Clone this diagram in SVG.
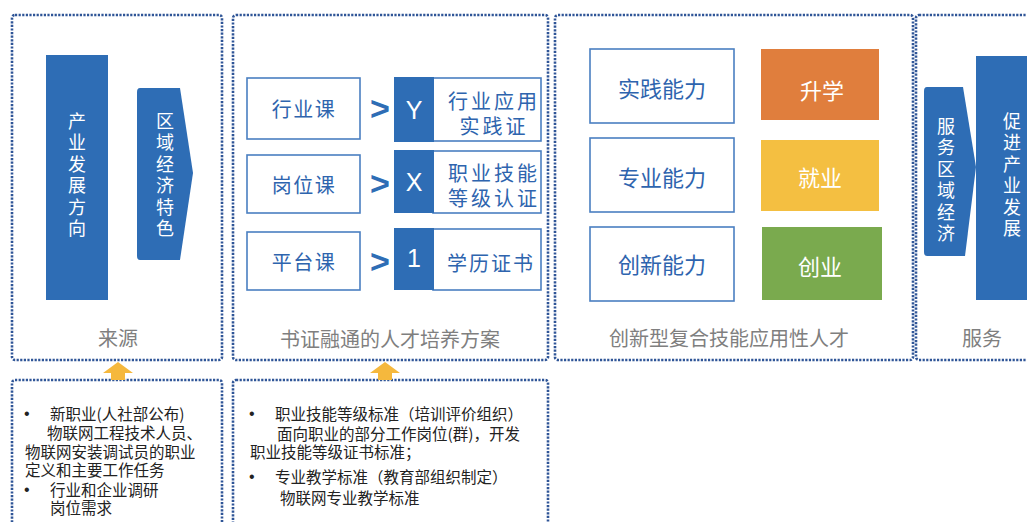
<svg xmlns="http://www.w3.org/2000/svg" width="1027" height="522" viewBox="0 0 1027 522">
<style>
.frame{fill:none;stroke:#2F5597;stroke-width:2.6;stroke-dasharray:2.2 1.4}
.blue{fill:#2E6DB5}
.box{fill:#fff;stroke:#4A7FC1;stroke-width:1.6}
.t{font-family:"Noto Sans CJK SC","Noto Sans",sans-serif;dominant-baseline:central}
.wv{fill:#fff;font-family:"Noto Sans CJK SC","Noto Sans",sans-serif;font-size:18px;writing-mode:vertical-rl;letter-spacing:3.5px}
.cap{fill:#7F7F7F;font-size:20px;text-anchor:middle}
.bt{fill:#2E64AE;font-size:20px;text-anchor:middle}
.ab{fill:#2E64AE;font-size:22px;text-anchor:middle}
.wl{fill:#fff;font-size:22px;text-anchor:middle}
.letter{fill:#fff;font-family:"Liberation Sans",Arial,sans-serif;font-size:25px;text-anchor:middle;dominant-baseline:central}
.chev{fill:#2E6DB5;font-family:"Liberation Sans",Arial,sans-serif;font-weight:bold;font-size:34px;text-anchor:middle;dominant-baseline:central}
.sm{fill:#222;font-size:15.5px}
.bul{fill:#222;font-family:"Liberation Sans",Arial,sans-serif;font-size:16px;dominant-baseline:central}
.arrow{fill:#F5B83D}
</style>

<g id="panel-source">
<rect class="frame" x="12" y="15" width="210" height="345" rx="3"/>
<rect class="blue" x="46" y="55" width="62" height="245"/>
<text class="wv" x="77" y="112">产业发展方向</text>
<path class="blue" d="M140 88 L180 88 L193 173 L180 260 L140 260 Q137 260 137 256 L137 92 Q137 88 140 88 Z"/>
<text class="wv" x="165" y="112">区域经济特色</text>
<text class="t cap" x="118" y="337">来源</text>
</g>

<g id="panel-plan">
<rect class="frame" x="233" y="15" width="315" height="345" rx="3"/>
<g id="row-y">
<rect class="box" x="247" y="78" width="113" height="61"/>
<text class="t bt" x="304" y="108.5" letter-spacing="1.5">行业课</text>
<text class="chev" x="380" y="108">&gt;</text>
<rect class="box" x="433" y="78" width="108" height="63"/>
<rect class="blue" x="394" y="77" width="40" height="65"/>
<text class="letter" x="414" y="109.5">Y</text>
<text class="t bt" x="494" y="100" letter-spacing="3">行业应用</text>
<text class="t bt" x="494" y="125" letter-spacing="3">实践证</text>
</g>
<g id="row-x">
<rect class="box" x="247" y="155" width="113" height="58"/>
<text class="t bt" x="304" y="184" letter-spacing="1.5">岗位课</text>
<text class="chev" x="380" y="183">&gt;</text>
<rect class="box" x="433" y="151" width="108" height="62"/>
<rect class="blue" x="394" y="150" width="40" height="63"/>
<text class="letter" x="414" y="182">X</text>
<text class="t bt" x="494" y="172" letter-spacing="3">职业技能</text>
<text class="t bt" x="494" y="197" letter-spacing="3">等级认证</text>
</g>
<g id="row-1">
<rect class="box" x="247" y="232" width="113" height="58"/>
<text class="t bt" x="304" y="261" letter-spacing="1.5">平台课</text>
<text class="chev" x="380" y="261">&gt;</text>
<rect class="box" x="433" y="229" width="108" height="61"/>
<rect class="blue" x="394" y="228" width="40" height="62"/>
<text class="letter" x="414" y="258">1</text>
<text class="t bt" x="491" y="262" letter-spacing="2">学历证书</text>
</g>
<text class="t cap" x="390" y="338">书证融通的人才培养方案</text>
</g>

<g id="panel-talent">
<rect class="frame" x="555" y="15" width="358" height="345" rx="3"/>
<rect class="box" x="590" y="49" width="144" height="74"/>
<text class="t ab" x="662" y="87">实践能力</text>
<rect class="box" x="590" y="138" width="144" height="74"/>
<text class="t ab" x="662" y="176">专业能力</text>
<rect class="box" x="590" y="227" width="144" height="74"/>
<text class="t ab" x="662" y="263">创新能力</text>
<rect x="761" y="49" width="118" height="71" fill="#E07E3D"/>
<text class="t wl" x="822" y="89">升学</text>
<rect x="761" y="140" width="118" height="71" fill="#F4BF41"/>
<text class="t wl" x="820" y="176">就业</text>
<rect x="762" y="227" width="120" height="73" fill="#7AAA4E"/>
<text class="t wl" x="820" y="265">创业</text>
<text class="t cap" x="729" y="337">创新型复合技能应用性人才</text>
</g>

<g id="panel-service">
<rect class="frame" x="916" y="15" width="130" height="345" rx="3"/>
<rect class="blue" x="976" y="56" width="60" height="244"/>
<path class="blue" d="M927 87 L963 87 L976 167 L965 256 L927 256 Q924 256 924 252 L924 91 Q924 87 927 87 Z"/>
<text class="wv" x="946" y="117">服务区域经济</text>
<text class="wv" x="1012" y="112">促进产业发展</text>
<text class="t cap" x="982" y="337">服务</text>
</g>

<g id="box-basis-source">
<rect class="frame" x="12" y="380" width="210" height="160" rx="3"/>
<text class="bul" x="24" y="413">•</text>
<text class="t sm" x="50" y="413">新职业(人社部公布)</text>
<text class="t sm" x="47" y="432">物联网工程技术人员、</text>
<text class="t sm" x="25" y="451">物联网安装调试员的职业</text>
<text class="t sm" x="25" y="469">定义和主要工作任务</text>
<text class="bul" x="24" y="489">•</text>
<text class="t sm" x="50" y="489">行业和企业调研</text>
<text class="t sm" x="50" y="507">岗位需求</text>
</g>

<g id="box-basis-plan">
<rect class="frame" x="233" y="380" width="315" height="160" rx="3"/>
<text class="bul" x="249" y="413">•</text>
<text class="t sm" x="275" y="413">职业技能等级标准（培训评价组织）</text>
<text class="t sm" x="277" y="433">面向职业的部分工作岗位(群)，开发</text>
<text class="t sm" x="250" y="451">职业技能等级证书标准；</text>
<text class="bul" x="249" y="476">•</text>
<text class="t sm" x="275" y="476">专业教学标准（教育部组织制定）</text>
<text class="t sm" x="280" y="497">物联网专业教学标准</text>
</g>

<g id="connectors">
<polygon class="arrow" points="103,373 118,362 133,373 125,373 125,380 111,380 111,373"/>
<polygon class="arrow" points="370,373 385,362 400,373 392,373 392,380 378,380 378,373"/>
</g>
</svg>
